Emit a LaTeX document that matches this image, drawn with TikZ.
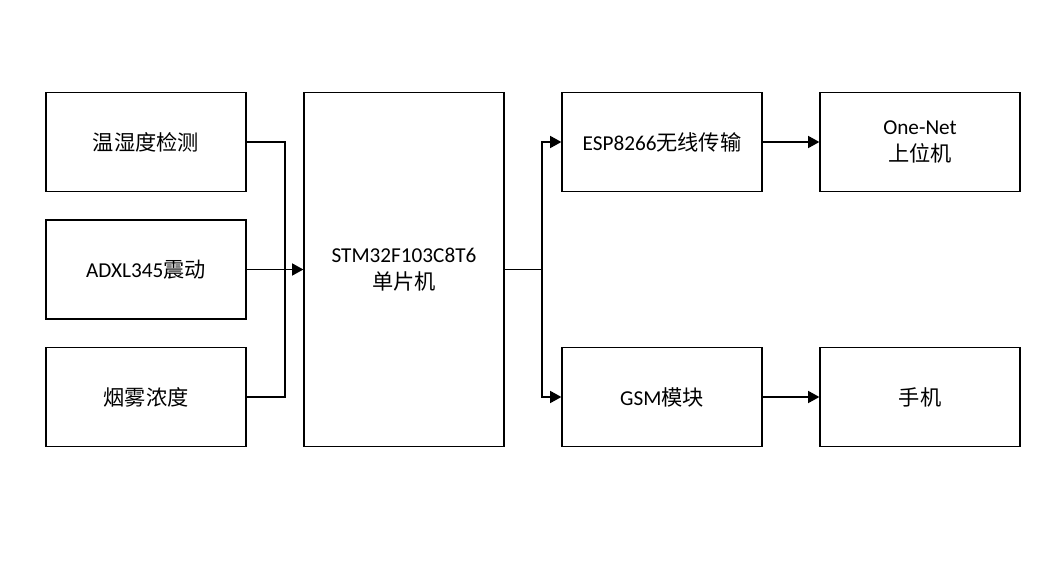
\documentclass[tikz,border=0pt]{standalone}
\usepackage{fontspec}
\setmainfont{Carlito}
\newfontfamily\cjk{Noto Sans CJK SC}
\usetikzlibrary{arrows.meta, math}

\tikzset{
  blk/.style={draw=black, line width=0.9pt, minimum width=200*0.0265cm, minimum height=99*0.0265cm,
    inner sep=0pt, font=\fontsize{16pt}{20pt}\selectfont, align=center},
  wire/.style={line width=1.4pt},
  feed/.style={wire, -{Triangle[length=8.5pt, width=9pt]}}
}

\begin{document}
\begin{tikzpicture}[x=0.0265cm, y=-0.0265cm]
\tikzmath{
\W=200;
\H=99;
}
\useasboundingbox (0,0) rectangle (1042,568);
\fill[white] (0,0) rectangle (1042,568);

% sensors
\node[blk] (temp)  at (146,142)   {\cjk 温湿度检测};
\node[blk] (adxl)  at (146,269.5) {ADXL345{\cjk 震动}};
\node[blk] (smoke) at (146,397)   {\cjk 烟雾浓度};

% controller
\node[blk, minimum height=354*0.0265cm] (mcu) at (404,269.5) {STM32F103C8T6\\[0pt]{\cjk 单片机}};

% outputs
\node[blk] (esp)    at (662,142) {ESP8266{\cjk 无线传输}};
\node[blk] (onenet) at (920,142) {One-Net\\[1pt]{\cjk 上位机}};
\node[blk] (gsm)    at (662,397) {GSM{\cjk 模块}};
\node[blk] (phone)  at (920,397) {\cjk 手机};

\coordinate (join)  at (285,269.5);
\coordinate (split) at (542,269.5);

\draw[wire] (temp.east) -| (join);
\draw[wire] (smoke.east) -| (join);
\draw[feed] (adxl.east) -- (mcu.west);

\draw[wire] (mcu.east) -- (split);
\draw[feed] (split) |- (esp.west);
\draw[feed] (split) |- (gsm.west);

\draw[feed] (esp.east) -- (onenet.west);
\draw[feed] (gsm.east) -- (phone.west);

\end{tikzpicture}
\end{document}
